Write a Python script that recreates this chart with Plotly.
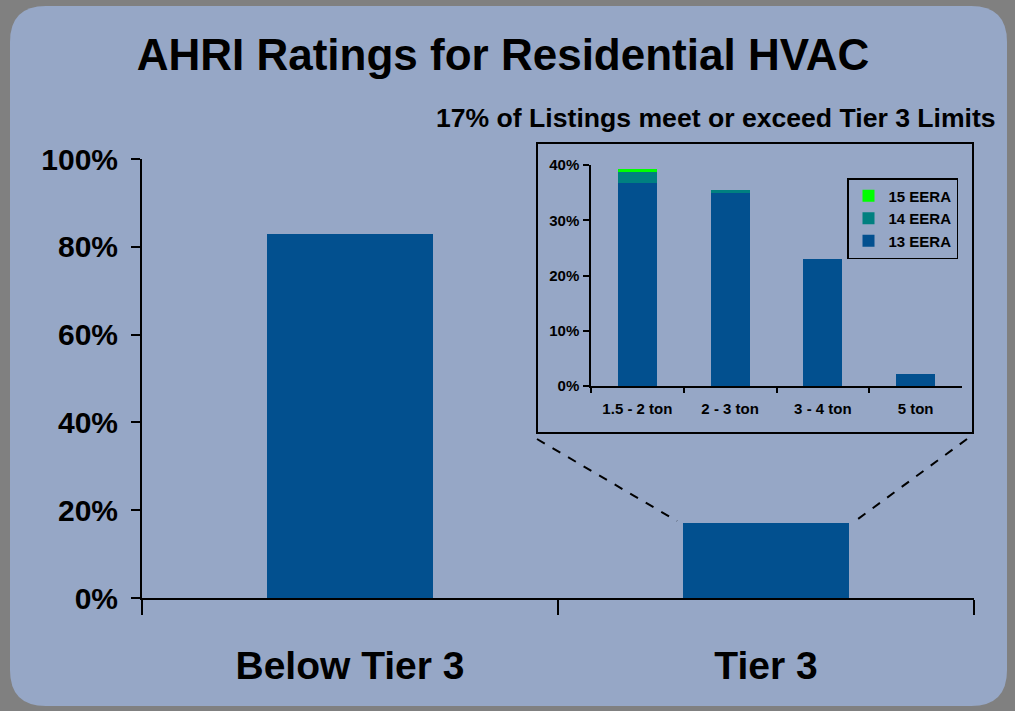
import plotly.graph_objects as go

W, H = 1015, 711

# ---- data ----
main_categories = ["Below Tier 3", "Tier 3"]
main_values = [83, 17]

inset_categories = ["1.5 - 2 ton", "2 - 3 ton", "3 - 4 ton", "5 ton"]
eera13 = [36.8, 34.9, 23.0, 2.2]
eera14 = [2.0, 0.5, 0.0, 0.0]
eera15 = [0.4, 0.0, 0.0, 0.0]

title_text = "AHRI Ratings for Residential HVAC"
subtitle_text = "17% of Listings meet or exceed Tier 3 Limits"

# ---- helpers (pixel -> paper) ----
def px(x):
    return x / W

def py(y):
    return 1 - y / H

BLUE = "#02508f"
TEAL = "#008080"
GREEN = "#00ff00"
FONT = "Liberation Sans"

fig = go.Figure()

fig.add_trace(go.Bar(x=main_categories, y=main_values, marker=dict(color=BLUE, line=dict(width=0)),
                     width=0.4, showlegend=False, xaxis="x", yaxis="y"))

fig.add_trace(go.Bar(x=inset_categories, y=eera13, name="13 EERA",
                     marker=dict(color=BLUE, line=dict(width=0)),
                     width=0.42, xaxis="x2", yaxis="y2"))
fig.add_trace(go.Bar(x=inset_categories, y=eera14, name="14 EERA",
                     marker=dict(color=TEAL, line=dict(width=0)),
                     width=0.42, xaxis="x2", yaxis="y2"))
fig.add_trace(go.Bar(x=inset_categories, y=eera15, name="15 EERA",
                     marker=dict(color=GREEN, line=dict(width=0)),
                     width=0.42, xaxis="x2", yaxis="y2"))

# background rounded rectangle
x0, y0, x1, y1, r = 10, 6, 1007, 706, 36
path = (f"M {px(x0+r)},{py(y0)} L {px(x1-r)},{py(y0)} Q {px(x1)},{py(y0)} {px(x1)},{py(y0+r)} "
        f"L {px(x1)},{py(y1-r)} Q {px(x1)},{py(y1)} {px(x1-r)},{py(y1)} "
        f"L {px(x0+r)},{py(y1)} Q {px(x0)},{py(y1)} {px(x0)},{py(y1-r)} "
        f"L {px(x0)},{py(y0+r)} Q {px(x0)},{py(y0)} {px(x0+r)},{py(y0)} Z")

shapes = [
    dict(type="path", path=path, xref="paper", yref="paper", fillcolor="#96a7c6",
         line=dict(width=0), layer="below"),
    # inset frame
    dict(type="rect", xref="paper", yref="paper", x0=px(537), x1=px(973), y0=py(433), y1=py(143),
         line=dict(color="black", width=2), fillcolor="rgba(0,0,0,0)", layer="above"),
    # zoom connector lines
    dict(type="line", xref="paper", yref="paper", x0=px(537), y0=py(439), x1=px(677), y1=py(521),
         line=dict(color="black", width=2, dash="dash")),
    dict(type="line", xref="paper", yref="paper", x0=px(967), y0=py(439), x1=px(858), y1=py(519),
         line=dict(color="black", width=2, dash="dash")),
]

fig.update_layout(
    template="none",
    width=W, height=H, autosize=False,
    margin=dict(l=0, r=0, t=0, b=0, pad=0, autoexpand=False),
    paper_bgcolor="#808080",
    plot_bgcolor="rgba(0,0,0,0)",
    font=dict(family=FONT, color="black"),
    barmode="stack",
    shapes=shapes,
    title=dict(text=title_text, x=px(503), y=py(55), xanchor="center", yanchor="middle",
               font=dict(family=FONT, size=44, weight="bold", color="black")),
    annotations=[dict(text=subtitle_text, x=px(716), y=py(118), xref="paper", yref="paper",
                      xanchor="center", yanchor="middle", showarrow=False,
                      font=dict(family=FONT, size=26.6, weight="bold", color="black"))],
    xaxis=dict(domain=[px(142), px(974)], showline=True, linecolor="black", linewidth=2,
               ticks="outside", tickson="boundaries", ticklen=15, tickwidth=2, tickcolor="black",
               tickfont=dict(family=FONT, size=39, weight="bold"), ticklabelstandoff=32,
               showgrid=False, anchor="y", automargin=False),
    yaxis=dict(domain=[py(598), py(159)], range=[0, 100], dtick=20, ticksuffix="%",
               showline=True, linecolor="black", linewidth=2, ticks="outside", ticklen=9,
               tickwidth=2, tickcolor="black", showgrid=False, zeroline=False,
               tickfont=dict(family=FONT, size=30, weight="bold"), ticklabelstandoff=7,
               anchor="x", automargin=False),
    xaxis2=dict(domain=[px(591), px(962)], showline=True, linecolor="black", linewidth=1.5,
                ticks="outside", tickson="boundaries", ticklen=5, tickwidth=1.5, tickcolor="black",
                tickfont=dict(family=FONT, size=15, weight="bold"), ticklabelstandoff=8,
                showgrid=False, anchor="y2", automargin=False),
    yaxis2=dict(domain=[py(386), py(165)], range=[0, 40], dtick=10, ticksuffix="%",
                showline=True, linecolor="black", linewidth=1.5, ticks="outside", ticklen=6,
                tickwidth=1.5, tickcolor="black", showgrid=False, zeroline=False,
                tickfont=dict(family=FONT, size=15, weight="bold"), ticklabelstandoff=1,
                anchor="x2", automargin=False),
    legend=dict(x=px(847), y=py(178), xanchor="left", yanchor="top", traceorder="reversed",
                bgcolor="rgba(0,0,0,0)", bordercolor="black", borderwidth=1.5,
                font=dict(family=FONT, size=15, weight="bold"), itemwidth=30,
                tracegroupgap=0),
)

fig.write_html("out.html", config={"displayModeBar": False},
               post_script="document.body.style.margin='0';")
